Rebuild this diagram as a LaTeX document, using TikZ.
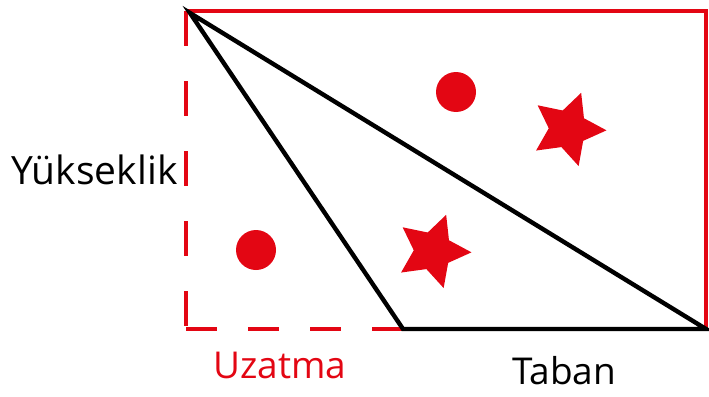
\documentclass[tikz,border=0pt]{standalone}
\usepackage{fontspec}
\setmainfont{Open Sans}
\usepackage{xcolor}
\usetikzlibrary{shapes.geometric, positioning}
\definecolor{kirmizi}{RGB}{227,6,19}

\tikzset{
  kenar/.style={kirmizi, line width=3.6pt},
  ucgen/.style={black, line width=4.4pt},
  yildiz/.style={star, star points=5, star point ratio=2, minimum size=77pt, inner sep=0pt, fill=kirmizi, rotate=-20},
  nokta/.style={circle, minimum size=40pt, inner sep=0pt, fill=kirmizi},
  etiket/.style={font=\fontsize{37}{41}\selectfont, inner sep=0pt, anchor=base west}
}

\begin{document}
\begin{tikzpicture}[x=1pt, y=-1pt]
        \useasboundingbox (0,0) rectangle (709,396);
        % Koseler
        \coordinate (A) at (190,13);
        \coordinate (B) at (403,329);
        \coordinate (C) at (706,329);
        \coordinate (D) at (186,329);
        \coordinate (E) at (186,11);
        \coordinate (F) at (708,11);
        \coordinate (G) at (706,11);
        % Dikdortgen
        \draw[kenar] (E) -- (F);
        \draw[kenar] (G) -- (C);
        \draw[kenar, dash pattern=on 35pt off 35pt] (E) -- (D);
        \draw[kenar, dash pattern=on 31pt off 31pt] (D) -- (B);
        % Ucgen
        \draw[ucgen] (A) -- (B) -- (C) -- cycle;
        % Sekiller
        \node[nokta] (n1) at (456,92) {};
        \node[nokta] (n2) at (256,250) {};
        \node[yildiz] (y1) at (568,129) {};
        \node[yildiz] (y2) at (433,251) {};
        % Etiketler
        \node[etiket, font=\fontsize{39}{43}\selectfont] (yuk) at (11,184) {Yükseklik};
        \node[etiket, text=kirmizi] (uza) at (213,378) {Uzatma};
        \node[etiket] (tab) at (512,384) {Taban};
    \end{tikzpicture}
\end{document}
